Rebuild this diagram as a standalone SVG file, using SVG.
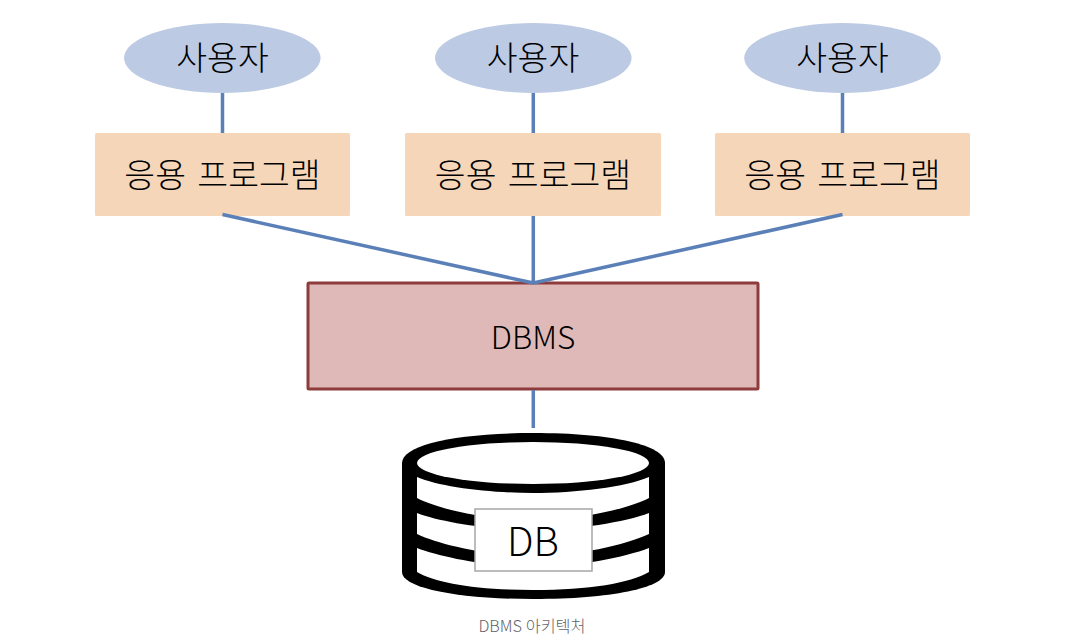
<svg xmlns="http://www.w3.org/2000/svg" width="1071" height="643" viewBox="0 0 1071 643">
<style>
text{font-family:"Noto Sans CJK KR","Noto Sans",sans-serif;font-weight:300;text-anchor:middle;fill:#000}
.e{fill:#bccbe3}.a{fill:#f5d6b9}.u{font-size:33.500px}.p{font-size:33.500px;word-spacing:4px}.c{stroke:#5b80b8;stroke-width:3.500;fill:none}
.w{fill:#fff}
</style>
<rect width="1071" height="643" fill="#fff"/>
<g id="user1"><ellipse class="e" cx="222.300" cy="58" rx="98.300" ry="35"/><text class="u" x="222.500" y="70">사용자</text></g>
<g id="user2"><ellipse class="e" cx="533.300" cy="58" rx="98.300" ry="35"/><text class="u" x="533" y="70">사용자</text></g>
<g id="user3"><ellipse class="e" cx="842.500" cy="58" rx="98.300" ry="35"/><text class="u" x="842.500" y="70">사용자</text></g>
<g id="app1"><rect class="a" x="95" y="133" width="255" height="83" rx="1.500"/><text class="p" x="222.500" y="187">응용 프로그램</text></g>
<g id="app2"><rect class="a" x="405" y="133" width="256" height="83" rx="1.500"/><text class="p" x="533" y="187">응용 프로그램</text></g>
<g id="app3"><rect class="a" x="715" y="133" width="255" height="83" rx="1.500"/><text class="p" x="842.500" y="187">응용 프로그램</text></g>
<g id="dbms"><rect x="308" y="283" width="450" height="106" fill="#deb9b8" stroke="#8e3b3b" stroke-width="3" rx="1"/><text x="533" y="349" font-size="31.500">DBMS</text></g>
<g id="db">
<path d="M402 463C402 445 455 433 533.500 433S665 445 665 463V572C665 588 610 599 533.500 599S402 588 402 572Z" fill="#000"/>
<ellipse class="w" cx="533" cy="463" rx="116" ry="21"/>
<path class="w" d="M417 477C440 487 490 493 533 493S626 487 649 477V498C626 510 576 520 533 520S440 510 417 498Z"/>
<path class="w" d="M417 513C440 522 490 530 533 530S626 522 649 513V534C626 545 576 556 533 556S440 545 417 534Z"/>
<path class="w" d="M417 548C440 557 490 567 533 567S626 557 649 548V572C630 583 590 590 533 590S436 583 417 572Z"/>
<rect x="475" y="509" width="117" height="62" fill="#fff" stroke="#a6a6a6" stroke-width="1.500"/>
<text x="533" y="556" font-size="39.500">DB</text>
</g>
<g id="connectors">
<path class="c" d="M222.500 93V133M533.300 93V133M842.500 93V133M222.500 214.500L533.300 283M533.300 216V283M842.500 214.500L533.300 283M533.300 390V428"/>
</g>
<text x="532" y="632" font-size="16.300" style="fill:#5f6368">DBMS 아키텍처</text>
</svg>
